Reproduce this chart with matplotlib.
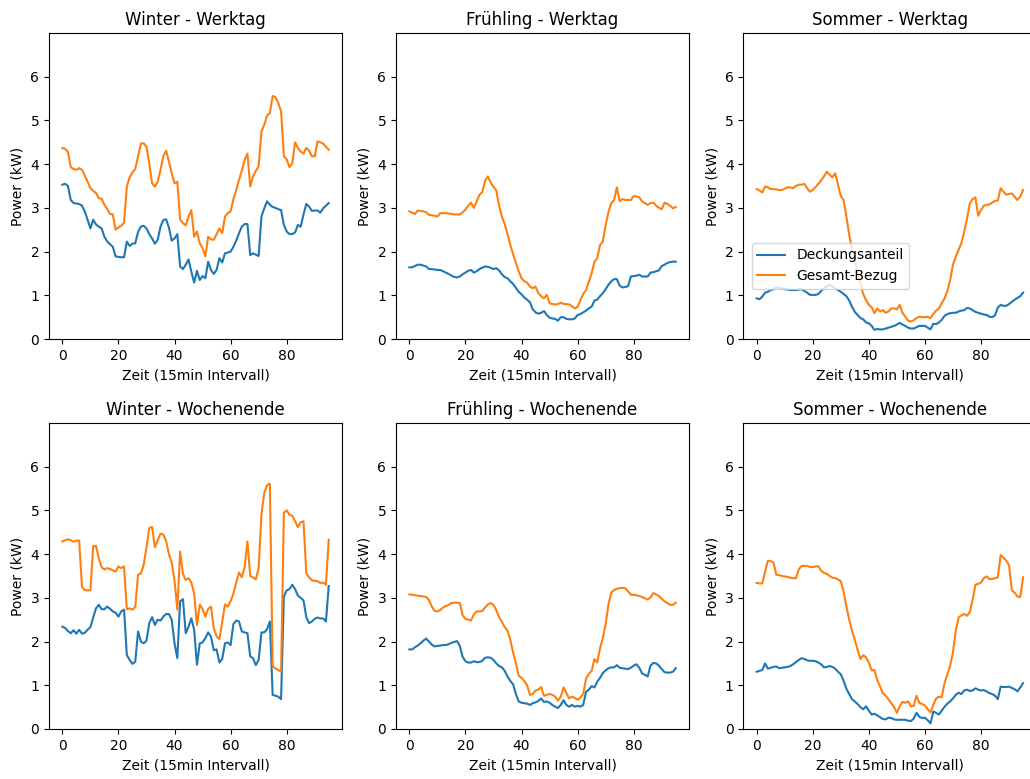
import numpy as np
import matplotlib
matplotlib.use("Agg")
import matplotlib.pyplot as plt

# 15-min load profiles (96 slots per day), values in kW
winter_werktag_deckung = [
    3.53, 3.55, 3.50, 3.18, 3.11, 3.10, 3.09, 3.05, 2.92, 2.73,
    2.53, 2.73, 2.62, 2.57, 2.53, 2.34, 2.23, 2.17, 2.11, 1.89,
    1.88, 1.87, 1.87, 2.23, 2.13, 2.18, 2.19, 2.45, 2.57, 2.59,
    2.53, 2.40, 2.30, 2.18, 2.27, 2.57, 2.72, 2.74, 2.55, 2.25,
    2.30, 2.40, 1.66, 1.60, 1.70, 1.82, 1.54, 1.29, 1.56, 1.35,
    1.44, 1.39, 1.77, 1.58, 1.49, 1.58, 1.85, 1.75, 1.96, 1.98,
    2.00, 2.11, 2.25, 2.42, 2.57, 2.63, 2.63, 1.92, 1.96, 1.93,
    1.90, 2.80, 2.99, 3.15, 3.07, 3.02, 3.00, 2.97, 2.95, 2.61,
    2.46, 2.40, 2.40, 2.44, 2.61, 2.57, 2.85, 3.09, 3.03, 2.93,
    2.94, 2.94, 2.89, 2.99, 3.05, 3.11]
winter_werktag_gesamt = [
    4.37, 4.35, 4.28, 3.93, 3.89, 3.87, 3.91, 3.87, 3.74, 3.60,
    3.45, 3.39, 3.34, 3.22, 3.21, 3.07, 2.97, 2.86, 2.85, 2.50,
    2.55, 2.59, 2.66, 3.49, 3.70, 3.81, 3.89, 4.18, 4.47, 4.48,
    4.40, 4.02, 3.56, 3.49, 3.60, 3.87, 4.18, 4.31, 4.06, 3.79,
    3.56, 3.60, 2.73, 2.65, 2.60, 2.80, 2.95, 2.34, 2.46, 2.19,
    2.08, 1.89, 2.34, 2.28, 2.27, 2.40, 2.53, 2.42, 2.80, 2.88,
    2.92, 3.20, 3.41, 3.64, 3.85, 4.10, 4.24, 3.49, 3.72, 3.85,
    3.95, 4.75, 4.90, 5.11, 5.17, 5.56, 5.53, 5.40, 5.21, 4.18,
    4.11, 3.93, 4.02, 4.50, 4.37, 4.29, 4.24, 4.37, 4.31, 4.18,
    4.18, 4.52, 4.50, 4.47, 4.40, 4.33]

fruehling_werktag_deckung = [
    1.64, 1.64, 1.67, 1.70, 1.70, 1.68, 1.66, 1.60, 1.60, 1.59,
    1.58, 1.58, 1.55, 1.52, 1.49, 1.45, 1.42, 1.41, 1.43, 1.48,
    1.52, 1.56, 1.58, 1.52, 1.55, 1.60, 1.63, 1.66, 1.65, 1.63,
    1.60, 1.62, 1.57, 1.48, 1.42, 1.39, 1.32, 1.26, 1.17, 1.08,
    1.02, 0.95, 0.90, 0.84, 0.68, 0.61, 0.58, 0.60, 0.64, 0.55,
    0.49, 0.47, 0.46, 0.42, 0.50, 0.50, 0.46, 0.45, 0.45, 0.47,
    0.55, 0.57, 0.61, 0.65, 0.70, 0.74, 0.88, 0.90, 0.98, 1.05,
    1.14, 1.24, 1.32, 1.37, 1.37, 1.22, 1.18, 1.19, 1.21, 1.43,
    1.44, 1.45, 1.47, 1.43, 1.43, 1.43, 1.52, 1.53, 1.55, 1.57,
    1.67, 1.70, 1.74, 1.76, 1.77, 1.77]
fruehling_werktag_gesamt = [
    2.92, 2.89, 2.86, 2.94, 2.93, 2.92, 2.90, 2.84, 2.83, 2.82,
    2.80, 2.88, 2.88, 2.88, 2.87, 2.86, 2.85, 2.85, 2.85, 2.90,
    2.96, 3.05, 3.12, 3.00, 3.15, 3.30, 3.36, 3.62, 3.72, 3.58,
    3.48, 3.40, 3.05, 2.80, 2.63, 2.40, 2.15, 1.94, 1.74, 1.55,
    1.39, 1.32, 1.29, 1.20, 1.16, 1.20, 1.05, 0.98, 0.93, 1.01,
    0.82, 0.80, 0.79, 0.80, 0.83, 0.80, 0.80, 0.79, 0.75, 0.70,
    0.74, 0.89, 1.03, 1.12, 1.31, 1.50, 1.77, 1.85, 2.15, 2.23,
    2.61, 2.90, 3.11, 3.18, 3.47, 3.15, 3.20, 3.18, 3.18, 3.18,
    3.27, 3.26, 3.24, 3.15, 3.11, 3.07, 3.11, 3.12, 3.05, 3.00,
    2.97, 3.12, 3.09, 3.05, 2.99, 3.02]

sommer_werktag_deckung = [
    0.93, 0.91, 0.97, 1.06, 1.08, 1.12, 1.14, 1.18, 1.17, 1.16,
    1.14, 1.13, 1.12, 1.12, 1.12, 1.13, 1.14, 1.10, 1.06, 1.01,
    1.01, 1.01, 1.03, 1.10, 1.16, 1.21, 1.24, 1.20, 1.16, 1.12,
    1.08, 1.03, 0.98, 0.88, 0.74, 0.62, 0.55, 0.48, 0.45, 0.38,
    0.36, 0.30, 0.21, 0.23, 0.22, 0.22, 0.24, 0.26, 0.28, 0.30,
    0.33, 0.37, 0.33, 0.30, 0.26, 0.24, 0.24, 0.27, 0.30, 0.30,
    0.30, 0.26, 0.22, 0.35, 0.34, 0.38, 0.44, 0.53, 0.57, 0.59,
    0.60, 0.60, 0.63, 0.65, 0.66, 0.71, 0.70, 0.66, 0.62, 0.60,
    0.58, 0.56, 0.55, 0.51, 0.50, 0.54, 0.72, 0.78, 0.76, 0.76,
    0.80, 0.85, 0.90, 0.94, 0.98, 1.06]
sommer_werktag_gesamt = [
    3.43, 3.40, 3.35, 3.49, 3.47, 3.43, 3.43, 3.42, 3.41, 3.41,
    3.44, 3.47, 3.47, 3.45, 3.50, 3.53, 3.53, 3.55, 3.45, 3.37,
    3.41, 3.48, 3.55, 3.63, 3.72, 3.83, 3.76, 3.70, 3.79, 3.53,
    3.27, 3.18, 2.80, 2.38, 2.08, 1.81, 1.50, 1.27, 1.03, 0.89,
    0.78, 0.73, 0.59, 0.70, 0.63, 0.66, 0.60, 0.63, 0.70, 0.70,
    0.68, 0.78, 0.60, 0.51, 0.42, 0.40, 0.43, 0.48, 0.51, 0.50,
    0.50, 0.51, 0.48, 0.58, 0.65, 0.70, 0.82, 0.93, 1.10, 1.35,
    1.70, 1.88, 2.04, 2.19, 2.45, 2.75, 3.10, 3.20, 3.24, 2.82,
    2.95, 3.05, 3.07, 3.08, 3.12, 3.16, 3.17, 3.45, 3.37, 3.30,
    3.32, 3.33, 3.25, 3.18, 3.26, 3.41]

winter_wochenende_deckung = [
    2.34, 2.31, 2.24, 2.19, 2.26, 2.18, 2.27, 2.18, 2.20, 2.27,
    2.33, 2.55, 2.76, 2.84, 2.74, 2.74, 2.80, 2.75, 2.69, 2.66,
    2.57, 2.69, 2.73, 1.69, 1.58, 1.49, 1.54, 2.23, 2.00, 1.96,
    2.02, 2.42, 2.56, 2.38, 2.50, 2.48, 2.57, 2.63, 2.63, 2.50,
    1.96, 1.62, 2.92, 2.97, 2.19, 2.34, 2.53, 2.27, 1.47, 1.96,
    1.98, 2.08, 2.21, 2.11, 1.80, 1.82, 1.52, 1.60, 1.96, 1.98,
    1.92, 2.40, 2.48, 2.46, 2.23, 2.21, 2.19, 1.66, 1.62, 1.46,
    1.58, 2.21, 2.21, 2.28, 2.46, 0.78, 0.76, 0.74, 0.68, 3.03,
    3.17, 3.20, 3.30, 3.20, 3.05, 3.00, 2.94, 2.56, 2.42, 2.46,
    2.52, 2.55, 2.53, 2.53, 2.46, 3.27]
winter_wochenende_gesamt = [
    4.29, 4.32, 4.34, 4.32, 4.28, 4.31, 4.31, 3.25, 3.18, 3.17,
    3.17, 4.18, 4.19, 3.90, 3.70, 3.65, 3.68, 3.66, 3.63, 3.60,
    3.72, 3.68, 3.72, 2.74, 2.76, 2.73, 2.79, 3.53, 3.56, 3.75,
    4.15, 4.60, 4.62, 4.16, 4.32, 4.47, 4.45, 4.30, 4.00, 3.80,
    3.40, 2.73, 4.06, 3.55, 3.41, 3.45, 3.35, 3.10, 2.38, 2.84,
    2.75, 2.57, 2.75, 2.80, 2.30, 2.12, 2.05, 2.45, 2.85, 2.80,
    2.92, 3.10, 3.35, 3.58, 3.47, 3.70, 4.29, 3.50, 3.47, 3.42,
    3.68, 4.90, 5.40, 5.58, 5.61, 1.45, 1.38, 1.35, 1.31, 4.95,
    5.00, 4.90, 4.88, 4.75, 4.62, 4.73, 4.75, 3.56, 3.47, 3.40,
    3.39, 3.38, 3.34, 3.35, 3.30, 4.33]

fruehling_wochenende_deckung = [
    1.82, 1.82, 1.87, 1.91, 1.96, 2.02, 2.07, 2.00, 1.93, 1.89,
    1.90, 1.91, 1.92, 1.92, 1.94, 1.97, 1.99, 2.01, 1.90, 1.65,
    1.55, 1.52, 1.52, 1.55, 1.53, 1.53, 1.56, 1.63, 1.64, 1.63,
    1.58, 1.50, 1.44, 1.41, 1.33, 1.20, 1.10, 1.02, 0.80, 0.63,
    0.60, 0.59, 0.58, 0.55, 0.59, 0.61, 0.64, 0.70, 0.62, 0.63,
    0.60, 0.55, 0.51, 0.48, 0.55, 0.66, 0.55, 0.51, 0.55, 0.51,
    0.53, 0.51, 0.55, 0.85, 0.90, 0.98, 0.95, 1.08, 1.17, 1.28,
    1.34, 1.39, 1.41, 1.41, 1.46, 1.40, 1.39, 1.38, 1.37, 1.40,
    1.45, 1.48, 1.40, 1.27, 1.24, 1.20, 1.45, 1.51, 1.50, 1.45,
    1.37, 1.30, 1.29, 1.29, 1.31, 1.39]
fruehling_wochenende_gesamt = [
    3.08, 3.07, 3.06, 3.05, 3.04, 3.03, 3.02, 2.95, 2.80, 2.70,
    2.69, 2.72, 2.78, 2.81, 2.84, 2.88, 2.89, 2.89, 2.88, 2.60,
    2.52, 2.50, 2.48, 2.62, 2.69, 2.69, 2.70, 2.78, 2.85, 2.88,
    2.84, 2.72, 2.56, 2.45, 2.33, 2.25, 2.04, 1.75, 1.50, 1.22,
    1.17, 1.10, 1.00, 0.78, 0.80, 0.88, 0.90, 0.96, 0.76, 0.78,
    0.80, 0.78, 0.74, 0.65, 0.74, 0.95, 0.82, 0.70, 0.74, 0.71,
    0.67, 0.72, 0.80, 1.15, 1.26, 1.33, 1.60, 1.52, 1.85, 2.08,
    2.40, 2.85, 3.12, 3.18, 3.21, 3.22, 3.23, 3.22, 3.15, 3.07,
    3.07, 3.06, 3.04, 3.02, 2.99, 2.96, 3.01, 3.11, 3.08, 3.04,
    2.98, 2.92, 2.88, 2.84, 2.84, 2.89]

sommer_wochenende_deckung = [
    1.31, 1.33, 1.35, 1.50, 1.38, 1.40, 1.42, 1.43, 1.39, 1.40,
    1.41, 1.42, 1.44, 1.48, 1.53, 1.58, 1.62, 1.60, 1.57, 1.56,
    1.56, 1.55, 1.52, 1.48, 1.41, 1.42, 1.44, 1.42, 1.38, 1.31,
    1.25, 1.10, 0.92, 0.80, 0.68, 0.63, 0.57, 0.50, 0.45, 0.52,
    0.42, 0.33, 0.35, 0.31, 0.27, 0.23, 0.22, 0.26, 0.25, 0.22,
    0.21, 0.21, 0.21, 0.21, 0.19, 0.18, 0.24, 0.37, 0.28, 0.25,
    0.26, 0.20, 0.13, 0.40, 0.37, 0.33, 0.42, 0.51, 0.58, 0.63,
    0.70, 0.78, 0.83, 0.80, 0.88, 0.90, 0.87, 0.88, 0.93, 0.90,
    0.88, 0.89, 0.86, 0.82, 0.80, 0.76, 0.68, 0.97, 0.96, 0.96,
    0.97, 0.94, 0.91, 0.86, 0.95, 1.05]
sommer_wochenende_gesamt = [
    3.34, 3.33, 3.33, 3.60, 3.85, 3.84, 3.81, 3.53, 3.52, 3.50,
    3.49, 3.48, 3.46, 3.45, 3.45, 3.65, 3.73, 3.73, 3.73, 3.71,
    3.70, 3.72, 3.72, 3.62, 3.57, 3.55, 3.50, 3.46, 3.45, 3.42,
    3.38, 3.15, 2.80, 2.50, 2.25, 2.04, 1.81, 1.60, 1.69, 1.64,
    1.52, 1.34, 1.35, 1.12, 0.97, 0.82, 0.76, 0.68, 0.59, 0.50,
    0.37, 0.52, 0.62, 0.60, 0.63, 0.52, 0.53, 0.76, 0.60, 0.57,
    0.54, 0.45, 0.38, 0.55, 0.70, 0.74, 0.73, 1.05, 1.25, 1.45,
    1.75, 2.25, 2.55, 2.60, 2.63, 2.59, 2.67, 2.95, 3.30, 3.32,
    3.35, 3.45, 3.49, 3.43, 3.43, 3.45, 3.47, 3.98, 3.92, 3.85,
    3.75, 3.17, 3.12, 3.03, 3.02, 3.47]

titles = ["Winter - Werktag", "Frühling - Werktag", "Sommer - Werktag",
          "Winter - Wochenende", "Frühling - Wochenende", "Sommer - Wochenende"]
deckung = [winter_werktag_deckung, fruehling_werktag_deckung, sommer_werktag_deckung,
           winter_wochenende_deckung, fruehling_wochenende_deckung, sommer_wochenende_deckung]
gesamt = [winter_werktag_gesamt, fruehling_werktag_gesamt, sommer_werktag_gesamt,
          winter_wochenende_gesamt, fruehling_wochenende_gesamt, sommer_wochenende_gesamt]

fig = plt.figure(figsize=(10.3, 7.79), dpi=100)

lefts = [0.0476, 0.3845, 0.7217]
bottoms = [0.5648, 0.0642]
w, h = 0.2845, 0.3928

for k in range(6):
    row, col = divmod(k, 3)
    ax = fig.add_axes([lefts[col], bottoms[row], w, h])
    t = np.arange(len(deckung[k]))
    ax.plot(t, deckung[k], label="Deckungsanteil")
    ax.plot(t, gesamt[k], label="Gesamt-Bezug")
    ax.set_ylim(0, 7)
    ax.set_yticks(range(7))
    ax.set_title(titles[k])
    ax.set_xlabel("Zeit (15min Intervall)")
    ax.set_ylabel("Power (kW)")
    if k == 2:
        ax.legend(loc="upper left", bbox_to_anchor=(0.005, 0.337))

fig.savefig("out.png", dpi=100)
